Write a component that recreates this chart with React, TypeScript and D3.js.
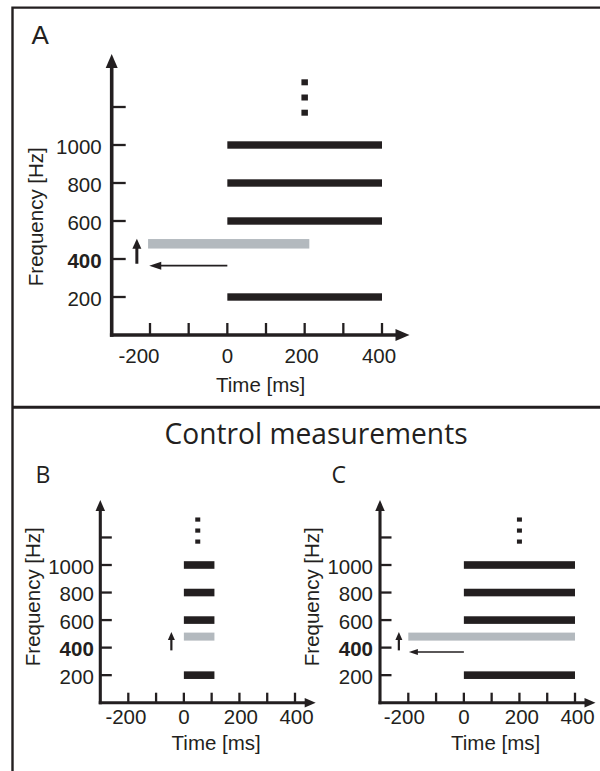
import React from "react";
import * as d3 from "d3";

// ---------- data ----------
const yTickValues = [200, 400, 600, 800, 1000, 1200];
const yTickLabels = ["200", "400", "600", "800", "1000", ""];
const boldYLabel = "400";
const xTickValues = [-200, -100, 0, 100, 200, 300, 400];
const xTickLabelValues = [-200, 0, 200, 400];
const toneFreqs = [200, 600, 800, 1000];
const probeFreq = 480;
const dotFreqs = [1170, 1250, 1330];

const toneSpanA = [0, 400];
const probeSpanA = [-205, 212];
const toneSpanB = [0, 110];
const probeSpanB = [0, 110];
const toneSpanC = [0, 400];
const probeSpanC = [-200, 400];

const dotTimeA = 200;
const dotTimeB = 50;
const dotTimeC = 200;

// up arrow: [time, fromFreq, toFreq]
const upArrowA = [-234, 375, 507];
const upArrowB = [-45, 380, 514];
const upArrowC = [-234, 380, 514];
// left arrow: [fromTime, toTime, freq]
const leftArrowA = [0, -202, 365];
const leftArrowC = [0, -198, 368];

const yAxisTitle = "Frequency [Hz]";
const xAxisTitle = "Time [ms]";

type PanelCfg = {
  xr: [number, number];
  yr: [number, number];
  xAxisStart: number;
  xArrowTip: number;
  yArrowTip: number;
  axisW: number;
  tickW: number;
  xTickLen: number;
  yTickLen: number;
  arrowHeadW: number;
  arrowHeadL: number;
  yLabelGap: number;
  xLabelDy: number;
  xTitleDy: number;
  yTitleX: number;
  yTitleY: number;
  xTitleX: number;
  negShift: number;
  posShift: number;
  toneSpan: number[];
  probeSpan: number[];
  toneH: number;
  probeH: number;
  dotTime: number;
  dotW: number;
  dotH: number;
  upArrow: number[];
  upW: number;
  upHeadW: number;
  upHeadL: number;
  leftArrow: number[] | null;
  leftW: number;
  leftHeadW: number;
  leftHeadL: number;
};

const BLACK = "#231f20";
const GRAY = "#b3b9be";
const TICKFONT = "Liberation Sans, Arial, Helvetica, sans-serif";
const FS = 20.5;

function Panel({ c }: { c: PanelCfg }) {
  const x = d3.scaleLinear().domain([-200, 400]).range(c.xr);
  const y = d3.scaleLinear().domain([0, 1000]).range(c.yr);
  const y0 = y(0);
  const x0 = c.xAxisStart;
  const items: React.ReactNode[] = [];

  // axes
  items.push(
    <line key="ya" x1={x0} x2={x0} y1={y0 + c.axisW / 2} y2={c.yArrowTip + c.arrowHeadL - 1} stroke={BLACK} strokeWidth={c.axisW} />
  );
  items.push(
    <path key="yah" d={`M${x0},${c.yArrowTip} L${x0 - c.arrowHeadW / 2},${c.yArrowTip + c.arrowHeadL} L${x0 + c.arrowHeadW / 2},${c.yArrowTip + c.arrowHeadL} Z`} fill={BLACK} />
  );
  items.push(
    <line key="xa" x1={x0 - c.axisW / 2} x2={c.xArrowTip - c.arrowHeadL + 1} y1={y0} y2={y0} stroke={BLACK} strokeWidth={c.axisW} />
  );
  items.push(
    <path key="xah" d={`M${c.xArrowTip},${y0} L${c.xArrowTip - c.arrowHeadL},${y0 - c.arrowHeadW / 2} L${c.xArrowTip - c.arrowHeadL},${y0 + c.arrowHeadW / 2} Z`} fill={BLACK} />
  );

  // y ticks
  yTickValues.forEach((v, i) => {
    items.push(
      <line key={"yt" + v} x1={x0} x2={x0 + c.yTickLen} y1={y(v)} y2={y(v)} stroke={BLACK} strokeWidth={c.tickW} />
    );
    if (yTickLabels[i]) {
      items.push(
        <text key={"yl" + v} x={x0 - c.yLabelGap} y={y(v)} dy="0.42em" textAnchor="end" style={{ fontFamily: TICKFONT }} fontSize={FS} fontWeight={yTickLabels[i] === boldYLabel ? "bold" : "normal"} fill={BLACK}>
          {yTickLabels[i]}
        </text>
      );
    }
  });

  // x ticks
  xTickValues.forEach((v) => {
    items.push(
      <line key={"xt" + v} x1={x(v)} x2={x(v)} y1={y0} y2={y0 - c.xTickLen} stroke={BLACK} strokeWidth={c.tickW} />
    );
  });
  xTickLabelValues.forEach((v) => {
    items.push(
      <text key={"xl" + v} x={x(v) + (v < 0 ? c.negShift : v > 0 ? c.posShift : 0)} y={y0 + c.xLabelDy} textAnchor="middle" style={{ fontFamily: TICKFONT }} fontSize={FS} fill={BLACK}>
        {v < 0 ? "-" + Math.abs(v) : String(v)}
      </text>
    );
  });

  // axis titles
  items.push(
    <text key="xtt" x={c.xTitleX} y={y0 + c.xTitleDy} textAnchor="middle" style={{ fontFamily: TICKFONT }} fontSize={FS} fill={BLACK}>
      {xAxisTitle}
    </text>
  );
  items.push(
    <text key="ytt" transform={`translate(${c.yTitleX},${c.yTitleY}) rotate(-90)`} textAnchor="middle" dy="0.36em" style={{ fontFamily: TICKFONT }} fontSize={FS} fill={BLACK}>
      {yAxisTitle}
    </text>
  );

  // tones
  toneFreqs.forEach((f) => {
    items.push(
      <rect key={"tone" + f} x={x(c.toneSpan[0])} width={x(c.toneSpan[1]) - x(c.toneSpan[0])} y={y(f) - c.toneH / 2} height={c.toneH} fill={BLACK} />
    );
  });
  items.push(
    <rect key="probe" x={x(c.probeSpan[0])} width={x(c.probeSpan[1]) - x(c.probeSpan[0])} y={y(probeFreq) - c.probeH / 2} height={c.probeH} fill={GRAY} />
  );

  // dots
  dotFreqs.forEach((f) => {
    items.push(
      <rect key={"dot" + f} x={x(c.dotTime) - c.dotW / 2} y={y(f) - c.dotH / 2} width={c.dotW} height={c.dotH} fill={BLACK} />
    );
  });

  // up arrow
  const ux = x(c.upArrow[0]);
  const uy1 = y(c.upArrow[1]);
  const uy2 = y(c.upArrow[2]);
  items.push(
    <line key="upl" x1={ux} x2={ux} y1={uy1} y2={uy2 + c.upHeadL - 1} stroke={BLACK} strokeWidth={c.upW} />
  );
  items.push(
    <path key="uph" d={`M${ux},${uy2} L${ux - c.upHeadW / 2},${uy2 + c.upHeadL} L${ux + c.upHeadW / 2},${uy2 + c.upHeadL} Z`} fill={BLACK} />
  );

  // left arrow
  if (c.leftArrow) {
    const lx1 = x(c.leftArrow[0]);
    const lx2 = x(c.leftArrow[1]);
    const ly = y(c.leftArrow[2]);
    items.push(
      <line key="ll" x1={lx1} x2={lx2 + c.leftHeadL - 1} y1={ly} y2={ly} stroke={BLACK} strokeWidth={c.leftW} />
    );
    items.push(
      <path key="lh" d={`M${lx2},${ly} L${lx2 + c.leftHeadL},${ly - c.leftHeadW / 2} L${lx2 + c.leftHeadL},${ly + c.leftHeadW / 2} Z`} fill={BLACK} />
    );
  }

  return <g>{items}</g>;
}

const panelA: PanelCfg = {
  xr: [150, 382],
  yr: [335, 145],
  xAxisStart: 111.7,
  xArrowTip: 409.5,
  yArrowTip: 54,
  axisW: 3.6,
  tickW: 2.3,
  xTickLen: 12,
  yTickLen: 14,
  arrowHeadW: 12,
  arrowHeadL: 14,
  yLabelGap: 10,
  xLabelDy: 27.7,
  xTitleDy: 56.7,
  yTitleX: 35.5,
  yTitleY: 216.7,
  xTitleX: 260.6,
  negShift: -11,
  posShift: -3,
  toneSpan: toneSpanA,
  probeSpan: probeSpanA,
  toneH: 7.4,
  probeH: 9.5,
  dotTime: dotTimeA,
  dotW: 6.5,
  dotH: 6,
  upArrow: upArrowA,
  upW: 3,
  upHeadW: 9,
  upHeadL: 10,
  leftArrow: leftArrowA,
  leftW: 1.8,
  leftHeadW: 8,
  leftHeadL: 12,
};

const panelB: PanelCfg = {
  xr: [128.3, 295],
  yr: [702.7, 565],
  xAxisStart: 100.3,
  xArrowTip: 315.7,
  yArrowTip: 500,
  axisW: 3.1,
  tickW: 2.3,
  xTickLen: 10,
  yTickLen: 11.5,
  arrowHeadW: 9.5,
  arrowHeadL: 11,
  yLabelGap: 6.5,
  xLabelDy: 21.3,
  xTitleDy: 47.3,
  yTitleX: 32.5,
  yTitleY: 596.7,
  xTitleX: 216.2,
  negShift: -2.4,
  posShift: 1.5,
  toneSpan: toneSpanB,
  probeSpan: probeSpanB,
  toneH: 7.6,
  probeH: 8,
  dotTime: dotTimeB,
  dotW: 5,
  dotH: 4.2,
  upArrow: upArrowB,
  upW: 2.2,
  upHeadW: 7,
  upHeadL: 8,
  leftArrow: null,
  leftW: 1.4,
  leftHeadW: 6,
  leftHeadL: 9,
};

const panelC: PanelCfg = {
  ...panelB,
  xr: [408.3, 575],
  xAxisStart: 380,
  xArrowTip: 595.5,
  yTitleX: 312,
  xTitleX: 495.6,
  yLabelGap: 7,
  negShift: -4,
  posShift: 2.5,
  toneSpan: toneSpanC,
  probeSpan: probeSpanC,
  dotTime: dotTimeC,
  upArrow: upArrowC,
  leftArrow: leftArrowC,
};

const TITLEFONT = "Open Sans, Noto Sans, sans-serif";

export default function App() {
  return (
    <div style={{ position: "absolute", left: 0, top: 0, width: 600, height: 771, background: "#fff" }}>
      <svg width={600} height={771} style={{ display: "block" }}>
        <rect width={600} height={771} fill="#fff" />
        {/* frame */}
        <path d="M600,7.6 H12.5 V771" fill="none" stroke={BLACK} strokeWidth={2.4} />
        <line x1={12} x2={600} y1={407.3} y2={407.3} stroke={BLACK} strokeWidth={3} />

        <text x={31.5} y={44.3} style={{ fontFamily: TICKFONT }} fontSize={26} fill={BLACK}>A</text>
        <text x={164.6} y={444} style={{ fontFamily: TITLEFONT }} fontSize={30} textLength={303} lengthAdjust="spacingAndGlyphs" fill={BLACK}>
          Control measurements
        </text>
        <text x={35.5} y={483} style={{ fontFamily: TITLEFONT }} fontSize={23} fill={BLACK}>B</text>
        <text x={331.5} y={483} style={{ fontFamily: TITLEFONT }} fontSize={23} fill={BLACK}>C</text>

        <Panel c={panelA} />
        <Panel c={panelB} />
        <Panel c={panelC} />
      </svg>
    </div>
  );
}
